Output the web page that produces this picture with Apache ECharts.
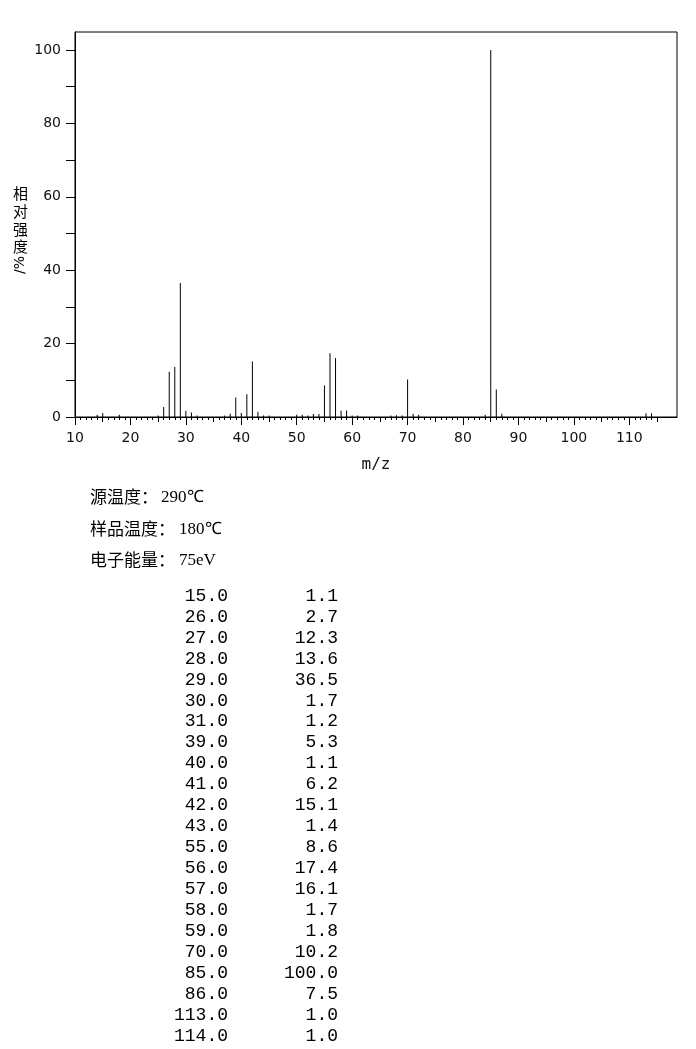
<!DOCTYPE html>
<html lang="zh">
<head>
<meta charset="UTF-8">
<title>质谱图</title>
<script src="https://cdn.jsdelivr.net/npm/echarts@6/dist/echarts.min.js"></script>
<style>
  html, body { margin: 0; padding: 0; background: #fff; }
  #chart { width: 696px; height: 1049px; }
</style>
</head>
<body>
<div id="chart"></div>
<script>
// 表中列出的峰 (m/z, 相对强度)
var masses = [15, 26, 27, 28, 29, 30, 31, 39, 40, 41, 42, 43, 55, 56, 57, 58, 59, 70, 85, 86, 113, 114];
var intensities = [1.1, 2.7, 12.3, 13.6, 36.5, 1.7, 1.2, 5.3, 1.1, 6.2, 15.1, 1.4, 8.6, 17.4, 16.1, 1.7, 1.8, 10.2, 100.0, 7.5, 1.0, 1.0];
// 图中可见但未列入表的小峰 (估读)
var smallMasses = [14, 18, 25, 32, 37, 38, 44, 45, 50, 51, 52, 53, 54, 60, 61, 67, 68, 69, 71, 72, 84, 87];
var smallIntensities = [0.6, 0.6, 0.4, 0.4, 0.4, 0.9, 0.4, 0.4, 0.6, 0.6, 0.4, 0.8, 0.8, 0.4, 0.4, 0.4, 0.5, 0.4, 0.9, 0.6, 0.6, 0.9];
// 刻度
var xLabelTicks = [10, 20, 30, 40, 50, 60, 70, 80, 90, 100, 110];
var xMidTicks = [15, 25, 35, 45, 55, 65, 75, 85, 95, 105, 115];
var xMinorTicks = [];
for (var t = 10; t <= 115; t++) xMinorTicks.push(t);
var yLabelTicks = [0, 20, 40, 60, 80, 100];
var yTicks = [0, 10, 20, 30, 40, 50, 60, 70, 80, 90, 100];
// 测试条件
var infoNames = ['源温度：', '样品温度：', '电子能量：'];
var infoValues = ['290℃', '180℃', '75eV'];

var chart = echarts.init(document.getElementById('chart'));

var peaks = [];
for (var i = 0; i < masses.length; i++) peaks.push([masses[i], intensities[i]]);
for (var j = 0; j < smallMasses.length; j++) peaks.push([smallMasses[j], smallIntensities[j]]);

var labelFont = { color: '#111', fontSize: 14, fontFamily: 'DejaVu Sans' };

function tickAxis(values, len) {
  return {
    type: 'value', min: 10, max: 118.6, position: 'bottom',
    axisLine: { show: false },
    axisLabel: { show: false },
    splitLine: { show: false },
    axisTick: { show: true, inside: false, length: len, customValues: values, lineStyle: { color: '#000' } }
  };
}

var graphics = [];
// 纵轴标题
var yChars = ['相', '对', '强', '度'];
for (var k = 0; k < yChars.length; k++) {
  graphics.push({
    type: 'text', x: 20.5, y: 193.5 + k * 17.7,
    style: { text: yChars[k], font: '15px "Noto Sans CJK SC"', fill: '#000', align: 'center', verticalAlign: 'middle' }
  });
}
graphics.push({
  type: 'text', x: 20.5, y: 265, rotation: Math.PI / 2,
  style: { text: '/%', font: '14px "DejaVu Sans"', fill: '#000', align: 'center', verticalAlign: 'middle' }
});
// 条件
for (var n = 0; n < infoNames.length; n++) {
  var iy = 497 + n * 31.5;
  graphics.push({
    type: 'text', x: 90, y: iy,
    style: { text: infoNames[n], font: '17px "Noto Sans CJK SC"', fill: '#000', align: 'left', verticalAlign: 'middle' }
  });
  graphics.push({
    type: 'text', x: 90 + infoNames[n].length * 18 - 1, y: iy + 1,
    style: { text: infoValues[n], font: '17px "Liberation Serif"', fill: '#000', align: 'left', verticalAlign: 'middle' }
  });
}
// 数据表
for (var r = 0; r < masses.length; r++) {
  var ry = 596 + r * 20.95;
  graphics.push({
    type: 'text', x: 228, y: ry,
    style: { text: masses[r].toFixed(1), font: '18px "Liberation Mono"', fill: '#000', align: 'right', verticalAlign: 'middle' }
  });
  graphics.push({
    type: 'text', x: 338, y: ry,
    style: { text: intensities[r].toFixed(1), font: '18px "Liberation Mono"', fill: '#000', align: 'right', verticalAlign: 'middle' }
  });
}

var option = {
  backgroundColor: '#fff',
  animation: false,
  grid: {
    left: 75, top: 32, right: 19, bottom: 632,
    show: true, borderColor: '#000', borderWidth: 1, backgroundColor: 'transparent'
  },
  xAxis: [
    {
      type: 'value', min: 10, max: 118.6, position: 'bottom',
      name: 'm/z', nameLocation: 'middle', nameGap: 40,
      nameTextStyle: { color: '#111', fontSize: 16, fontFamily: 'DejaVu Sans Mono' },
      axisLine: { show: true, lineStyle: { color: '#000', width: 1 } },
      axisTick: { show: true, length: 8, customValues: xLabelTicks, lineStyle: { color: '#000' } },
      axisLabel: Object.assign({ margin: 14, customValues: xLabelTicks }, labelFont),
      splitLine: { show: false }
    },
    tickAxis(xMidTicks, 5),
    tickAxis(xMinorTicks, 3)
  ],
  yAxis: {
    type: 'value', min: 0, max: 104.9,
    axisLine: { show: true, lineStyle: { color: '#000', width: 1 } },
    axisTick: { show: true, length: 9, customValues: yTicks, lineStyle: { color: '#000' } },
    axisLabel: Object.assign({ margin: 14, customValues: yLabelTicks }, labelFont),
    splitLine: { show: false }
  },
  series: [{
    type: 'bar',
    xAxisIndex: 0,
    data: peaks,
    barWidth: 1,
    itemStyle: { color: '#000' },
    silent: true
  }],
  graphic: graphics
};

chart.setOption(option);
</script>
</body>
</html>
